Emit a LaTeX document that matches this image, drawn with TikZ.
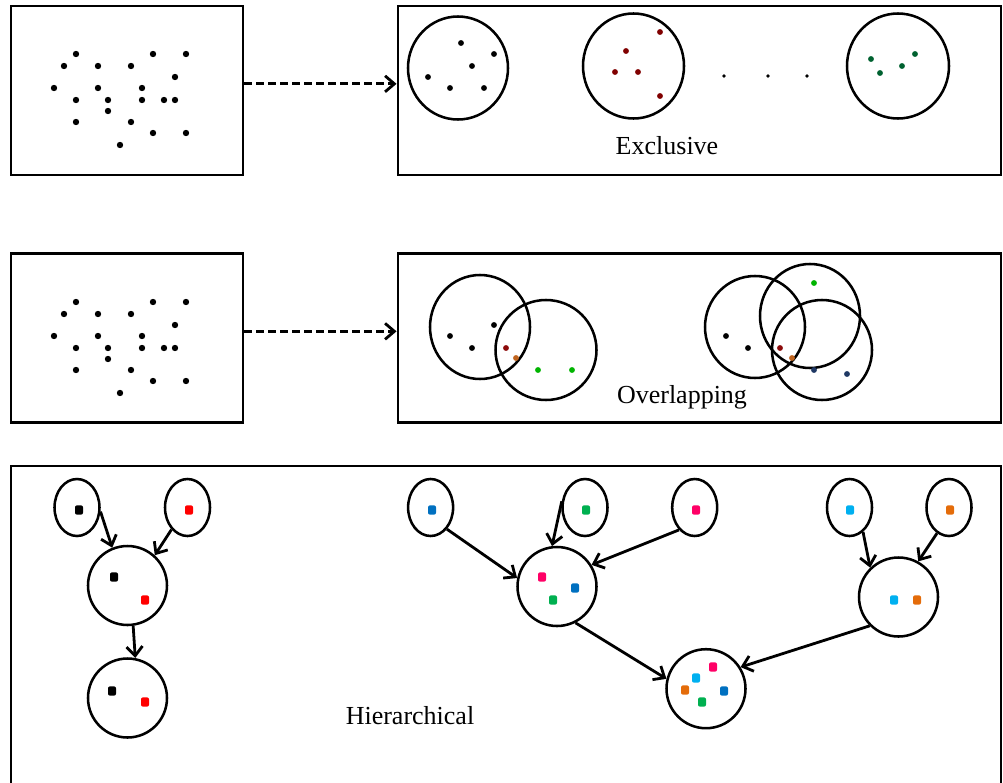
\documentclass[tikz,border=0pt]{standalone}
\usepackage{fontspec}
\setmainfont{Liberation Serif}
\usetikzlibrary{shapes.geometric,arrows.meta}

\definecolor{exred}{RGB}{128,0,0}
\definecolor{exgreen}{RGB}{0,97,48}
\definecolor{ovred}{RGB}{140,10,10}
\definecolor{ovorange}{RGB}{192,100,30}
\definecolor{ovgreen}{RGB}{0,180,0}
\definecolor{ovblue}{RGB}{31,56,100}
\definecolor{hblue}{RGB}{0,112,192}
\definecolor{hgreen}{RGB}{0,176,80}
\definecolor{hpink}{RGB}{255,0,102}
\definecolor{hcyan}{RGB}{0,176,240}
\definecolor{horange}{RGB}{228,108,10}
\definecolor{hred}{RGB}{255,0,0}

\tikzset{
  frame/.style={draw,line width=2.2pt,inner sep=0pt},
  blob/.style={ellipse,draw,line width=1.9pt,inner sep=0pt},
  leaf/.style={blob,minimum width=33.75pt,minimum height=42.75pt},
  merged/.style={blob,minimum width=59.25pt,minimum height=59.25pt},
  link/.style={-{Straight Barb[length=7pt,width=12pt]},line width=2.1pt},
  dashlink/.style={link,dash pattern=on 6pt off 3pt},
  sq/.style={fill=#1,rounded corners=1.5pt},
  caption/.style={font=\fontsize{19.5}{23}\selectfont}
}

\begin{document}
\begin{tikzpicture}[x=0.75pt,y=-0.75pt]
   \useasboundingbox (0,0) rectangle (1003,782);
   % the four boxes of the two upper rows
   \node [frame,minimum width=174pt,minimum height=126.75pt] (data1) at (127,90.5) {};
   \node [frame,minimum width=452.25pt,minimum height=126.75pt] (excl) at (699.5,90.5) {};
   \node [frame,minimum width=174pt,minimum height=126.75pt] (data2) at (127,338) {};
   \node [frame,minimum width=452.25pt,minimum height=126.75pt] (over) at (699.5,338) {};
   % the lower box runs off the page
   \draw [line width=2.2pt] (11,800) -- (11,466) -- (1001,466) -- (1001,800);
   % dashed arrows between the rows
   \draw [dashlink] ([yshift=5pt]data1.east) -- ([yshift=5pt]data1.east -| excl.west);
   \draw [dashlink] ([yshift=5pt]data2.east) -- ([yshift=5pt]data2.east -| over.west);
   % the same scatter of points in both left boxes
   \foreach \x/\y in {76/54,153/54,186/54,64/66,98/66,131/66,175/77,54/88,98/88,
       142/88,76/100,108/100,142/100,164/100,175/100,108/111,76/122,131/122,
       153/133,186/133,120/145} {
       \fill (\x,\y) circle (2.4pt);
       \fill (\x,\y+248) circle (2.4pt);}

   % exclusive clusters
   \node [blob,minimum width=75pt,minimum height=77.25pt] (ex1) at (458,68) {};
   \node [blob,minimum width=75.75pt,minimum height=78.75pt] (ex2) at (633.5,66) {};
   \node [blob,minimum width=76.5pt,minimum height=78.75pt] (ex3) at (898,66) {};
   \foreach \x/\y in {461/43,494/54,472/66,428/77,450/88,484/88}
       \fill (\x,\y) circle (2.2pt);
   \foreach \x/\y in {660/32,626/51,615/72,638/72,660/96}
       \fill [exred] (\x,\y) circle (2.2pt);
   \foreach \x/\y in {871/59,880/73,902/66,915/54}
       \fill [exgreen] (\x,\y) circle (2.2pt);
   \foreach \x in {724,768,807}
       \fill (\x,76) circle (1.4pt);
   \node [caption] (exlabel) at (667,146) {Exclusive};

   % overlapping clusters
   \node [blob,minimum width=75pt,minimum height=78pt] (ovA) at (480,327) {};
   \node [blob,minimum width=75.75pt,minimum height=75pt] (ovB) at (546,350) {};
   \node [blob,minimum width=75pt,minimum height=76.5pt] (ovC) at (755,327) {};
   \node [blob,minimum width=75pt,minimum height=78pt] (ovD) at (810,316) {};
   \node [blob,minimum width=75pt,minimum height=75pt] (ovE) at (822,350) {};
   \foreach \x/\y in {450/336,472/348,494/325,726/336,748/348}
       \fill (\x,\y) circle (2.2pt);
   \fill [ovred] (506,348) circle (2.2pt) (780,348) circle (2.2pt);
   \fill [ovorange] (516,358) circle (2.2pt) (792,358) circle (2.2pt);
   \fill [ovgreen] (538,370) circle (2.2pt) (572,370) circle (2.2pt) (814,283) circle (2.2pt);
   \fill [ovblue] (814,370) circle (2.2pt) (847,374) circle (2.2pt);
   \node [caption] (ovlabel) at (682,397) {Overlapping};

   % hierarchical clusters, left tree
   \node [leaf] (lk) at (77,507.5) {};
   \node [leaf] (lr) at (187.5,507.5) {};
   \node [merged] (lm) at (127.5,585.5) {};
   \node [merged] (lb) at (127.5,698) {};
   % right tree
   \node [leaf] (tb) at (430.6,507.5) {};
   \node [leaf] (tg) at (585,507.5) {};
   \node [leaf] (tp) at (694.7,507.5) {};
   \node [leaf] (tc) at (849.5,507.5) {};
   \node [leaf] (to) at (949,507.5) {};
   \node [merged] (m1) at (557,586.5) {};
   \node [merged] (m2) at (898.5,597) {};
   \node [merged] (root) at (706,688.7) {};
   % the coloured members
   \foreach \x/\y/\c in {79/510/black,189/510/hred,114/577/black,145/600/hred,
       112/691/black,145/702/hred,
       432/510/hblue,586/510/hgreen,696/510/hpink,850/510/hcyan,950/510/horange,
       542/577/hpink,575/588/hblue,553/600/hgreen,894/600/hcyan,917/600/horange,
       713/667/hpink,696/678/hcyan,685/690/horange,724/691/hblue,702/702/hgreen}
       \path [sq=\c] (\x,\y) +(-3pt,-3.5pt) rectangle +(3pt,3.5pt);
   % merges
   \draw [link] (lk.-10) -- (lm.112);
   \draw [link] (lr.234) -- (lm.48);
   \draw [link] (lm.-82) -- (lb.79);
   \draw [link] (tb.-53) -- (m1.168);
   \draw [link] (tg.165) -- (m1.97);
   \draw [link] (tp.235) -- (m1.32);
   \draw [link] (tc.-61) -- (m2.134);
   \draw [link] (to.245) -- (m2.61);
   \draw [link] (m1.-63) -- (root.166);
   \draw [link] (m2.225) -- (root.32);
   \node [caption] (hlabel) at (410,716) {Hierarchical};
\end{tikzpicture}
\end{document}
